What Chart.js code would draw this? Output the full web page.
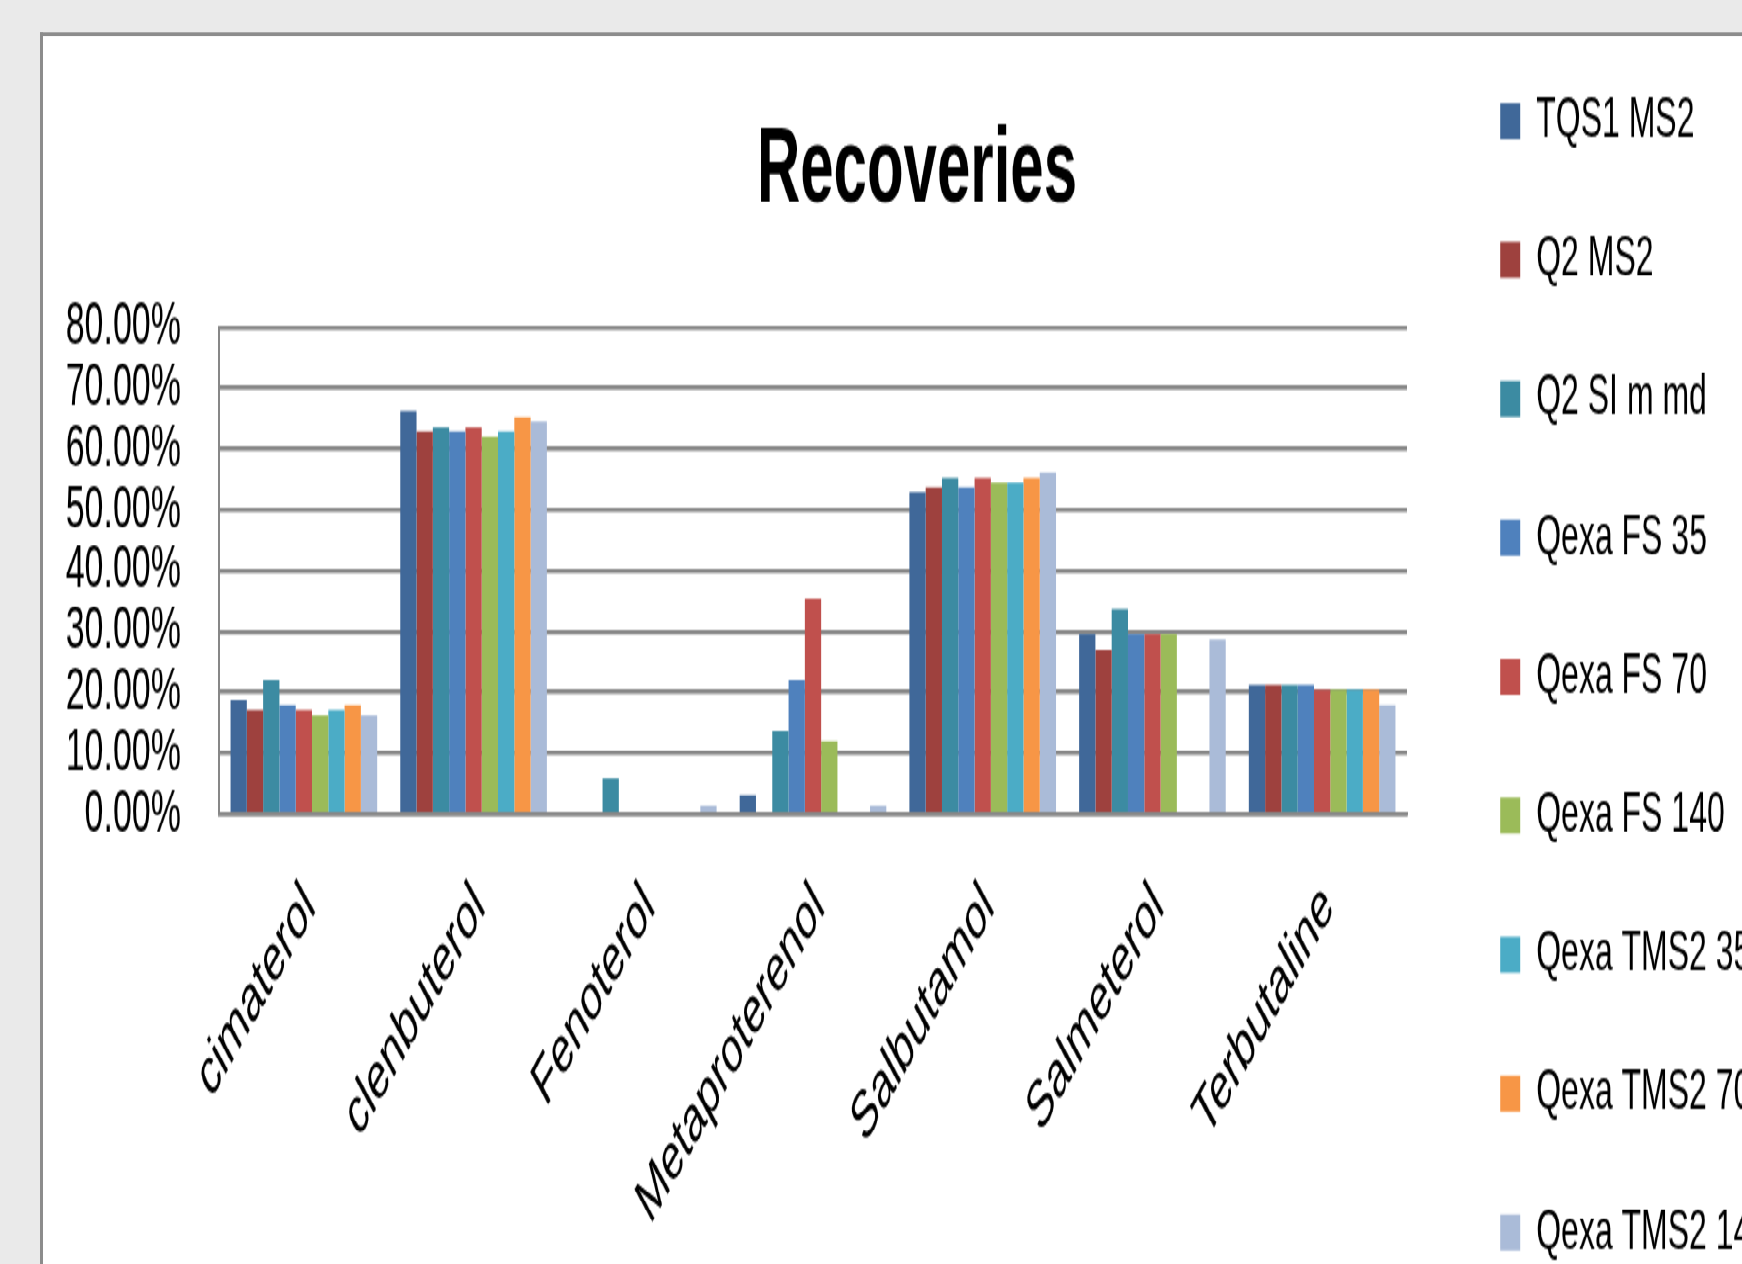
<!DOCTYPE html>
<html>
<head>
<meta charset="utf-8">
<script src="https://cdn.jsdelivr.net/npm/chart.js@4.4.1/dist/chart.umd.min.js"></script>
<style>
  html, body { margin: 0; padding: 0; overflow: hidden; background: #eaeaea; width: 1742px; height: 1264px; }
  #wrap { position: absolute; left: 0; top: 0; width: 1834px; height: 780px; transform: scaleY(1.8); transform-origin: 0 0; }
  #panel { position: absolute; left: 40px; top: 18px; width: 1900px; height: 900px; background: #ffffff;
           border-left: 3px solid #8c8c8c; border-top: 2.6px solid #8c8c8c; }
  #c { position: absolute; left: 0; top: 0; }
</style>
</head>
<body>
<div id="wrap">
  <div id="panel"></div>
  <canvas id="c" width="1834" height="780"></canvas>
</div>
<script>
const categories = ["cimaterol", "clenbuterol", "Fenoterol", "Metaproterenol", "Salbutamol", "Salmeterol", "Terbutaline"];
const seriesNames = ["TQS1 MS2", "Q2 MS2", "Q2 SI m md", "Qexa FS 35", "Qexa FS 70", "Qexa FS 140", "Qexa TMS2 35", "Qexa TMS2 70", "Qexa TMS2 140"];
const tqs1Ms2    = [18.7, 66.2, 0.0, 3.1, 52.9, 29.6, 21.2];
const q2Ms2      = [17.1, 62.9, 0.0, 0.0, 53.7, 27.0, 21.2];
const q2SiMmd    = [22.0, 63.6, 5.8, 13.7, 55.3, 33.7, 21.2];
const qexaFs35   = [17.9, 62.9, 0.0, 22.0, 53.7, 29.6, 21.2];
const qexaFs70   = [17.1, 63.6, 0.0, 35.4, 55.3, 29.6, 20.4];
const qexaFs140  = [16.2, 62.0, 0.0, 12.0, 54.5, 29.6, 20.4];
const qexaTms35  = [17.1, 62.9, 0.0, 0.0, 54.5, 0.0, 20.4];
const qexaTms70  = [17.9, 65.3, 0.0, 0.0, 55.3, 0.0, 20.4];
const qexaTms140 = [16.2, 64.5, 1.3, 1.3, 56.2, 28.7, 17.9];
const seriesValues = [tqs1Ms2, q2Ms2, q2SiMmd, qexaFs35, qexaFs70, qexaFs140, qexaTms35, qexaTms70, qexaTms140];
const seriesColors = ["#406899", "#9e413e", "#3c8ba2", "#4f81bd", "#c0504d", "#9bbb59", "#4bacc6", "#f79646", "#aabbd8"];
const yTicks = [0, 10, 20, 30, 40, 50, 60, 70, 80];

const FONT = "'Liberation Sans', Arial, sans-serif";
const GRID = "#878787";

const datasets = seriesNames.map((name, i) => ({
  label: name,
  data: seriesValues[i],
  backgroundColor: seriesColors[i],
  borderWidth: 0,
  categoryPercentage: 0.864,
  barPercentage: 1.0
}));

new Chart(document.getElementById('c'), {
  type: 'bar',
  data: { labels: categories, datasets },
  options: {
    responsive: false,
    animation: false,
    devicePixelRatio: 1,
    layout: { padding: { left: 61, right: 61, top: 6, bottom: 0 } },
    plugins: {
      title: {
        display: true,
        text: 'Recoveries',
        color: '#000',
        font: { family: FONT, size: 60, weight: 'bold' },
        padding: { top: 53, bottom: 51 }
      },
      legend: {
        position: 'right',
        align: 'start',
        maxWidth: 318,
        labels: {
          color: '#000',
          font: { family: FONT, size: 32 },
          boxWidth: 20,
          boxHeight: 20,
          padding: 45.2
        }
      },
      tooltip: { enabled: false }
    },
    scales: {
      x: {
        grid: { display: false },
        border: { display: true, color: GRID, width: 2.6 },
        ticks: {
          color: '#000',
          font: { family: FONT, size: 37 },
          maxRotation: 45,
          minRotation: 45,
          autoSkip: false,
          labelOffset: 6,
          padding: 22
        },
        afterFit: (s) => { s.height = 780 - 452.2; }
      },
      y: {
        min: 0,
        max: 80,
        afterBuildTicks: (s) => { s.ticks = yTicks.map(v => ({ value: v })); },
        grid: { color: GRID, lineWidth: 2.6, drawTicks: false },
        border: { display: true, color: GRID, width: 2 },
        ticks: {
          color: '#000',
          font: { family: FONT, size: 34 },
          padding: 38,
          autoSkip: false,
          callback: (v) => v.toFixed(2) + '%'
        },
        afterFit: (s) => { s.width = 219 - 61; }
      },
      y2: {
        position: 'right',
        display: true,
        grid: { display: false, drawTicks: false },
        border: { display: false },
        ticks: { display: false },
        afterFit: (s) => { s.width = 48; }
      }
    }
  }
});
</script>
</body>
</html>
